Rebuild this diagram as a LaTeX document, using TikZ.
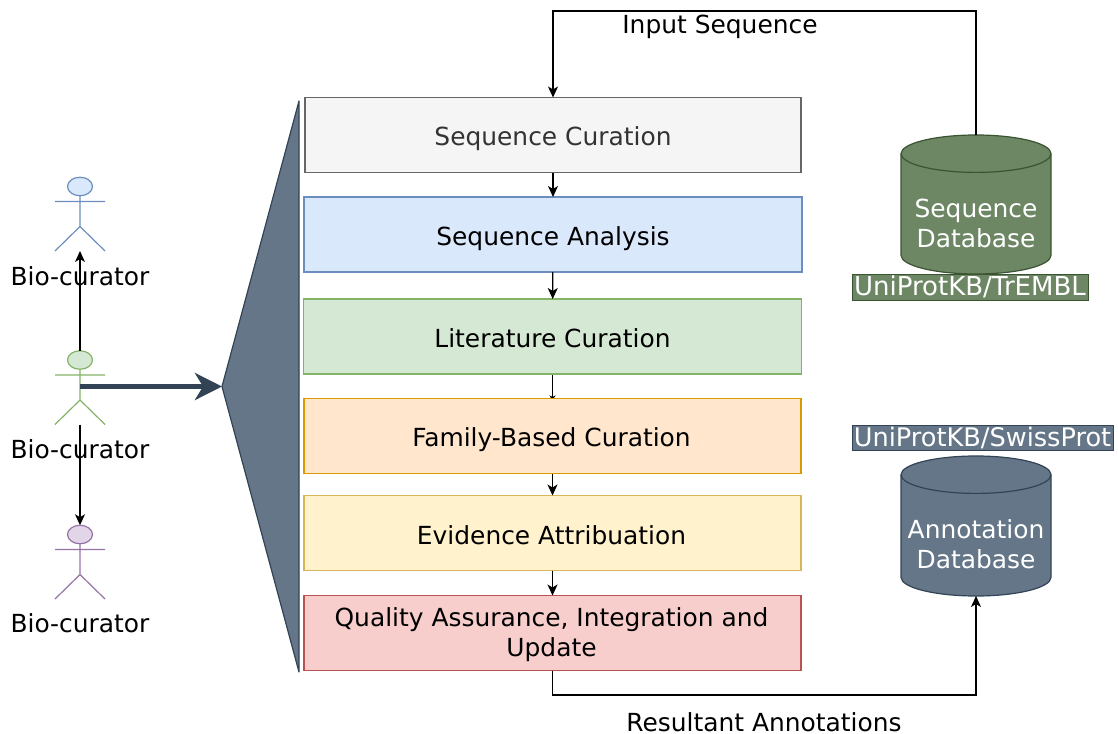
\documentclass[tikz,border=0pt]{standalone}
\usepackage{fontspec}
\setmainfont{DejaVu Sans}
\usetikzlibrary{arrows.meta,shapes.geometric,backgrounds}
\definecolor{slatef}{HTML}{647687}
\definecolor{slated}{HTML}{314354}
\definecolor{greenf}{HTML}{6D8764}
\definecolor{greend}{HTML}{3A5431}
\definecolor{grayf}{HTML}{F5F5F5}\definecolor{grayd}{HTML}{666666}\definecolor{grayt}{HTML}{333333}
\definecolor{bluef}{HTML}{DAE8FC}\definecolor{blued}{HTML}{6C8EBF}
\definecolor{grnf}{HTML}{D5E8D4}\definecolor{grnd}{HTML}{82B366}
\definecolor{orf}{HTML}{FFE6CC}\definecolor{ord}{HTML}{D79B00}
\definecolor{yelf}{HTML}{FFF2CC}\definecolor{yeld}{HTML}{D6B656}
\definecolor{redf}{HTML}{F8CECC}\definecolor{redd}{HTML}{B85450}
\definecolor{purf}{HTML}{E1D5E7}\definecolor{purd}{HTML}{9673A6}
\tikzset{
  every node/.style={font=\fontsize{24.9}{30}\selectfont, outer sep=0pt, inner sep=0pt, align=center},
  stepbox/.style={draw, line width=1.2pt, minimum width=#1, minimum height=75},
  steptext/.style={text height=24, text depth=2},
  conn/.style={draw=black, line width=1.2pt, -{Stealth[length=11,width=10,inset=3]}},
  tag/.style={draw=#1, line width=1pt, text=white},
  actorline/.style={line width=1.2pt}
}
\newcommand{\actor}[4]{% name, y of head top, stroke, fill
  \node[draw=#3, fill=#4, ellipse, line width=1.2pt, minimum width=25, minimum height=18.5] (#1) at (80,#2+9.5) {};
  \coordinate (#1arml) at (55,#2+24.5);
  \coordinate (#1armr) at (105,#2+24.5);
  \coordinate (#1hip) at (80,#2+49.5);
  \coordinate (#1legl) at (55,#2+74);
  \coordinate (#1legr) at (105,#2+74);
  \draw[actorline,draw=#3] (#1.south) -- (#1hip) (#1arml) -- (#1armr) (#1legl) -- (#1hip) -- (#1legr);
}
\newcommand{\dbcyl}[7]{% name, top, bottom, fill, stroke, text y, text
  \draw[fill=#4, draw=#5, line width=1.2pt]
    (901,#2+18.7) .. controls (901,#2+8.4) and (934.6,#2) .. (976,#2)
    .. controls (1017.4,#2) and (1051,#2+8.4) .. (1051,#2+18.7)
    -- (1051,#3-18.7) .. controls (1051,#3-8.4) and (1017.4,#3) .. (976,#3)
    .. controls (934.6,#3) and (901,#3-8.4) .. (901,#3-18.7) -- cycle;
  \draw[draw=#5, line width=1.2pt]
    (901,#2+18.7) .. controls (901,#2+29) and (934.6,#2+37.4) .. (976,#2+37.4)
    .. controls (1017.4,#2+37.4) and (1051,#2+29) .. (1051,#2+18.7);
  \node[minimum width=150, minimum height=#3-#2] (#1) at (976,#2/2+#3/2) {};
  \node[text=white] (#1t) at (976,#6) {#7};
}
\begin{document}
\begin{tikzpicture}[x=1pt,y=-1pt]
\useasboundingbox (0,0) rectangle (1118,733);

% actors
\actor{top}{177}{blued}{bluef}
\actor{mid}{350.5}{grnd}{grnf}
\actor{bot}{525}{purd}{purf}
\node (lab1) at (80,276) {Bio-curator};
\node (lab2) at (80,449) {Bio-curator};
\node (lab3) at (80,623) {Bio-curator};
\draw[conn] (mid.north) -- (toplegl -| mid.north);
\draw[conn] (midhip |- midlegl) -- (bot.north);

% funnel
\coordinate (fant) at (299,101);
\coordinate (fanb) at (299,672);
\coordinate (fana) at (222,386.5);
\draw[draw=slated, fill=slatef, line width=1.2pt, line join=round] (fant) -- (fana) -- (fanb) -- cycle;
\draw[draw=slated, line width=4.5pt, -{Stealth[length=27,width=27,inset=8]}] (midhip |- fana) -- (fana);

% boxes
\node[stepbox=496, steptext, fill=grayf, draw=grayd, text=grayt] (s1) at (553,135) {Sequence Curation};
\node[stepbox=498, steptext, fill=bluef, draw=blued] (s2) at (553,234.5) {Sequence Analysis};
\node[stepbox=498, steptext, fill=grnf, draw=grnd] (s3) at (552.5,336.5) {Literature Curation};
\node[stepbox=497, fill=orf, draw=ord] (s4) at (552.5,436) {};
\node (s4t) at (551.5,440) {Family-Based Curation};
\node[stepbox=497, fill=yelf, draw=yeld] (s5) at (552.5,533) {};
\node (s5t) at (551.5,535) {Evidence Attribuation};
\node[stepbox=497, fill=redf, draw=redd] (s6) at (552.5,633) {};
\node (s6t) at (551.5,635) {Quality Assurance, Integration and\\Update};

\draw[conn] (s1) -- (s2);
\draw[conn] (s2) -- (s3);
\begin{scope}[on background layer]
\draw[draw=black, line width=1.2pt, -{Stealth[length=5,width=6,inset=1.5]}] (s3) -- ([yshift=-2]s3.south |- s4.north);
\end{scope}
\draw[conn] (s4) -- (s5);
\draw[conn] (s5) -- (s6);

% databases
\dbcyl{d1}{135}{274}{greenf}{greend}{223}{Sequence\\Database}
\dbcyl{d2}{456}{596}{slatef}{slated}{544}{Annotation\\Database}
\node[tag=greend, fill=greenf, minimum width=236, minimum height=26, font=\fontsize{26}{30}\selectfont] (t1) at (970,287) {UniProtKB/TrEMBL};
\node[tag=slated, fill=slatef, minimum width=261, minimum height=25, font=\fontsize{25.6}{30}\selectfont] (t2) at (982.5,437.5) {UniProtKB/SwissProt};

\coordinate (c1) at (976,11);
\coordinate (c2) at (553,11);
\draw[conn] (d1.north) -- (c1) -- (c2) -- (s1.north -| c2);
\coordinate (c3) at (552.5,695);
\coordinate (c4) at (976,695);
\draw[conn] (s6.south -| c3) -- (c3) -- (c4) -- (d2.south);
\node (l1) at (720,27) {Input Sequence};
\node (l2) at (764,722) {Resultant Annotations};
\end{tikzpicture}
\end{document}
